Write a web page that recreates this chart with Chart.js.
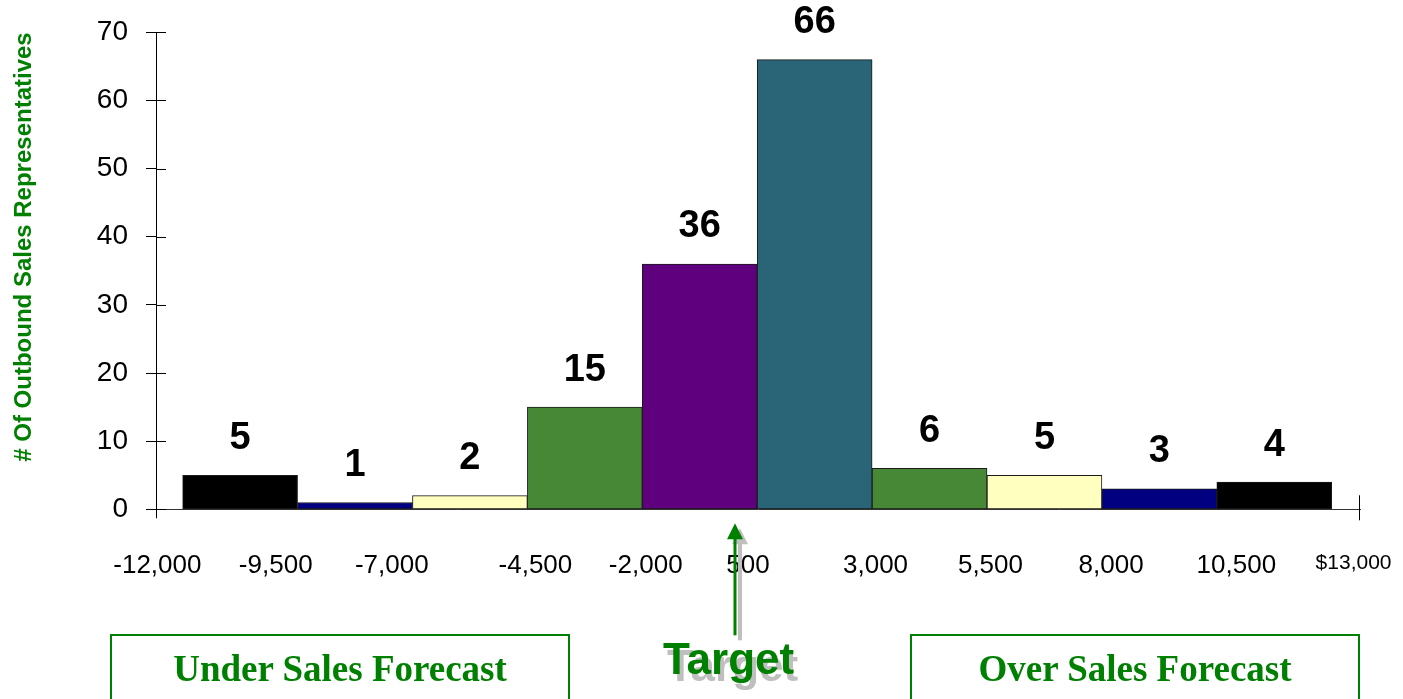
<!DOCTYPE html>
<html><head><meta charset="utf-8">
<script src="https://cdn.jsdelivr.net/npm/chart.js@4"></script>
<style>
html,body{margin:0;padding:0;background:#fff;}
#wrap{position:relative;width:1403px;height:699px;overflow:hidden;}
canvas{position:absolute;left:0;top:0;}
.box{position:absolute;top:634px;height:80px;border:2px solid #008000;box-sizing:border-box;text-align:center;font:bold 37px "Liberation Serif","Times New Roman",serif;color:#008000;line-height:41px;padding-top:12px;white-space:nowrap;}
.target{position:absolute;left:663px;top:634px;font:bold 44px "Liberation Sans",Arial,sans-serif;color:#008000;line-height:50px;text-shadow:4px 7px 0 #bfbfbf;}
</style></head>
<body><div id="wrap"><canvas id="c" width="1403" height="699"></canvas>
<div class="box" style="left:110px;width:460px">Under Sales Forecast</div>
<div class="box" style="left:910px;width:450px">Over Sales Forecast</div>
<div class="target">Target</div></div>
<script>
// ---- data ----
const categories = ['-12,000 to -9,500','-9,500 to -7,000','-7,000 to -4,500','-4,500 to -2,000','-2,000 to 500','500 to 3,000','3,000 to 5,500','5,500 to 8,000','8,000 to 10,500','10,500 to 13,000'];
const counts = [5, 1, 2, 15, 36, 66, 6, 5, 3, 4];
const tickLabels = ['-12,000','-9,500','-7,000','-4,500','-2,000','500','3,000','5,500','8,000','10,500','$13,000'];
const yTitle = '# Of Outbound Sales Representatives';

// ---- styles / layout ----
const barColors = ['#000000','#000080','#FFFFC0','#478837','#5F007F','#2A6577','#478837','#FFFFC0','#000080','#000000'];
const X_MIN = -0.732, X_MAX = 9.746;
const tickShift = [-0.22,-0.19,-0.18,0.07,0.03,-0.08,0.03,0.03,0.08,0.17,0.19];
const TARGET_AT = 4.31;
const FONT = '"Liberation Sans", Arial, sans-serif';

const valueLabels = {
  id: 'valueLabels',
  afterDatasetsDraw(chart) {
    const ctx = chart.ctx, meta = chart.getDatasetMeta(0);
    ctx.save();
    ctx.font = 'bold 38px ' + FONT;
    ctx.fillStyle = '#000';
    ctx.textAlign = 'center';
    ctx.textBaseline = 'middle';
    meta.data.forEach((bar, i) => ctx.fillText(String(counts[i]), bar.x, bar.y - 37));
    ctx.restore();
  }
};
const extras = {
  id: 'extras',
  afterDraw(chart) {
    const ctx = chart.ctx, ys = chart.scales.y, xs = chart.scales.x;
    ctx.save();
    ctx.strokeStyle = '#000'; ctx.lineWidth = 1;
    ctx.beginPath();
    ys.ticks.forEach((t, i) => {
      const py = Math.round(ys.getPixelForTick(i)) + 0.5;
      ctx.moveTo(ys.right, py); ctx.lineTo(ys.right + 10, py);
    });
    const pxl = Math.round(xs.getPixelForValue(X_MIN)) + 0.5;
    ctx.moveTo(pxl, xs.top); ctx.lineTo(pxl, xs.top + 9);
    const pxm = Math.round(xs.getPixelForValue(X_MAX)) - 0.5;
    ctx.moveTo(pxm, xs.top - 14); ctx.lineTo(pxm, xs.top + 11);
    ctx.stroke();
    // target arrow
    const ax = Math.round(xs.getPixelForValue(TARGET_AT));
    const top = xs.top;
    const arrow = (dx, dy, col, lw) => {
      ctx.strokeStyle = col; ctx.fillStyle = col; ctx.lineWidth = lw;
      ctx.beginPath();
      ctx.moveTo(ax + dx, top + 28 + dy); ctx.lineTo(ax + dx, top + 126 + dy); ctx.stroke();
      ctx.beginPath();
      ctx.moveTo(ax + dx, top + 14 + dy);
      ctx.lineTo(ax + dx - 8, top + 30 + dy);
      ctx.lineTo(ax + dx + 8, top + 30 + dy);
      ctx.closePath(); ctx.fill();
    };
    arrow(5, 5, '#bfbfbf', 4);
    arrow(0, 0, '#008000', 3);
    ctx.restore();
  }
};

new Chart(document.getElementById('c'), {
  type: 'bar',
  data: {
    labels: categories,
    datasets: [{
      data: counts.map((v, i) => ({x: i, y: v})),
      backgroundColor: barColors,
      borderColor: '#1a1a1a',
      borderWidth: 1,
      borderSkipped: false,
      barThickness: 'flex',
      categoryPercentage: 1,
      barPercentage: 1
    }]
  },
  options: {
    responsive: false,
    animation: false,
    layout: {padding: {top: 32.3, right: 43, left: 0, bottom: 0}},
    plugins: {legend: {display: false}, tooltip: {enabled: false}},
    scales: {
      x: {
        type: 'linear', min: X_MIN, max: X_MAX, offset: false,
        afterBuildTicks: s => {
          s.ticks = [{value: X_MIN}].concat(tickLabels.map((t, i) => ({value: i - 0.5 + tickShift[i]})), [{value: X_MAX}]);
        },
        afterFit: s => { s.height = 699 - 509.3; s.paddingLeft = 0; s.paddingRight = 0; },
        ticks: {
          autoSkip: false, maxRotation: 0, minRotation: 0, padding: 31, color: '#000',
          font: c => ({family: FONT, size: c.index === 11 ? 21 : 26}),
          callback: (v, i) => (i >= 1 && i <= tickLabels.length) ? tickLabels[i - 1] : ''
        },
        grid: {drawOnChartArea: false, tickLength: 10, lineWidth: 1, color: 'rgba(0,0,0,0)'},
        border: {display: true, color: '#333', width: 1}
      },
      y: {
        min: 0, max: 70,
        afterFit: s => { s.width = 156; s.paddingTop = 0; s.paddingBottom = 0; },
        ticks: {stepSize: 10, padding: 18, color: '#000', font: {family: FONT, size: 28}},
        grid: {drawOnChartArea: false, tickLength: 10, color: '#000'},
        border: {display: true, color: '#000'},
        title: {display: true, text: yTitle, color: '#008000', align: 'end',
          font: {family: FONT, size: 24, weight: 'bold'}, padding: {top: 10, bottom: 0}}
      }
    }
  },
  plugins: [valueLabels, extras]
});
</script>
</body></html>
